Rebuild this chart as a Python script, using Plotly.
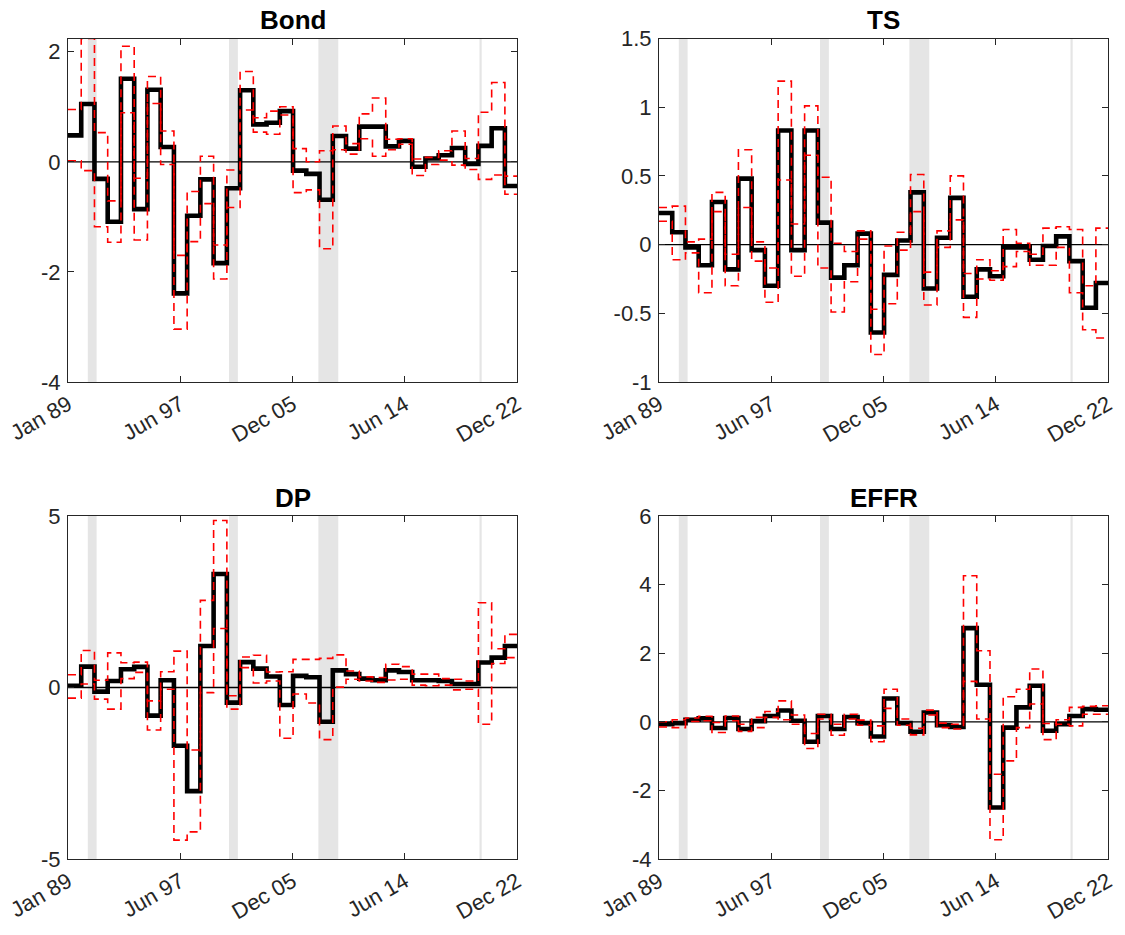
import pandas as pd
import plotly.graph_objects as go

# Annual step estimates (black) with upper/lower bands (red dashed), 1989-2022
years = list(range(1989, 2023))

bond = [0.48, 1.05, -0.31, -1.09, 1.51, -0.86, 1.31, 0.27, -2.39, -0.98, -0.32, -1.84,
        -0.48, 1.30, 0.68, 0.71, 0.92, -0.16, -0.22, -0.69, 0.47, 0.24, 0.64, 0.64,
        0.28, 0.38, -0.09, 0.06, 0.12, 0.25, -0.04, 0.29, 0.61, -0.44]
bond_hi = [0.95, 2.24, 0.53, -0.71, 2.10, -0.30, 1.55, 0.56, -1.70, -0.54, 0.10, -1.51,
           -0.15, 1.64, 0.80, 0.92, 1.00, 0.24, 0.00, 0.20, 0.65, 0.33, 0.87, 1.16,
           0.41, 0.42, 0.05, 0.08, 0.20, 0.56, 0.06, 0.90, 1.44, -0.26]
bond_lo = [0.02, -0.16, -1.18, -1.46, 0.89, -1.42, 1.06, -0.05, -3.04, -1.45, -0.76, -2.13,
           -0.83, 0.94, 0.54, 0.50, 0.85, -0.56, -0.51, -1.58, 0.22, 0.14, 0.42, 0.10,
           0.22, 0.32, -0.25, -0.05, 0.03, -0.06, -0.14, -0.32, -0.24, -0.59]

ts = [0.23, 0.09, -0.02, -0.15, 0.31, -0.18, 0.48, -0.04, -0.30, 0.83, -0.04, 0.83,
      0.16, -0.24, -0.15, 0.08, -0.64, -0.22, 0.03, 0.38, -0.32, 0.05, 0.34, -0.38,
      -0.18, -0.23, -0.02, -0.02, -0.11, -0.01, 0.06, -0.12, -0.46, -0.28]
ts_hi = [0.27, 0.28, 0.02, 0.04, 0.38, -0.07, 0.69, 0.02, -0.17, 1.19, 0.15, 1.01,
         0.49, 0.01, -0.05, 0.10, -0.47, -0.01, 0.09, 0.51, -0.20, 0.10, 0.50, -0.21,
         -0.11, -0.19, 0.11, 0.01, -0.07, 0.12, 0.13, 0.11, -0.30, 0.12]
ts_lo = [0.17, -0.11, -0.06, -0.35, 0.24, -0.30, 0.27, -0.12, -0.42, 0.47, -0.23, 0.65,
         -0.17, -0.49, -0.27, 0.04, -0.80, -0.43, -0.04, 0.24, -0.44, -0.02, 0.18, -0.53,
         -0.25, -0.26, -0.16, -0.05, -0.15, -0.15, -0.02, -0.35, -0.62, -0.68]

dp = [0.05, 0.61, -0.12, 0.19, 0.53, 0.60, -0.82, 0.21, -1.70, -3.02, 1.21, 3.31,
      -0.44, 0.74, 0.55, 0.32, -0.51, 0.34, 0.30, -1.00, 0.50, 0.39, 0.26, 0.21,
      0.50, 0.45, 0.21, 0.21, 0.19, 0.10, 0.10, 0.73, 0.87, 1.21]
dp_hi = [0.37, 1.08, 0.21, 1.01, 0.72, 0.74, -0.39, 0.46, 1.06, -1.82, 2.54, 4.87,
         -0.24, 0.89, 0.94, 0.45, 0.46, 0.82, 0.82, 0.85, 0.95, 0.48, 0.31, 0.29,
         0.68, 0.61, 0.39, 0.39, 0.26, 0.24, 0.19, 2.47, 1.13, 1.55]
dp_lo = [-0.31, 0.10, -0.34, -0.63, 0.26, 0.44, -1.24, -0.05, -4.45, -4.21, -0.15, 1.72,
         -0.63, 0.58, 0.13, 0.19, -1.48, -0.19, -0.45, -1.52, 0.01, 0.24, 0.19, 0.15,
         0.22, 0.24, 0.07, 0.05, 0.07, -0.07, -0.05, -1.07, 0.70, 0.87]

effr = [-0.07, -0.04, 0.06, 0.10, -0.18, 0.11, -0.21, 0.02, 0.17, 0.33, 0.03, -0.58,
        0.17, -0.21, 0.14, -0.04, -0.43, 0.68, -0.04, -0.29, 0.27, -0.10, -0.15, 2.73,
        1.08, -2.50, -0.17, 0.42, 1.05, -0.26, -0.07, 0.17, 0.37, 0.35]
effr_hi = [0.00, 0.06, 0.11, 0.16, -0.02, 0.17, -0.07, 0.13, 0.30, 0.61, 0.20, -0.34,
           0.22, -0.07, 0.22, 0.05, -0.12, 0.95, 0.08, -0.19, 0.34, -0.04, -0.07, 4.26,
           2.07, -1.53, 0.73, 0.95, 1.54, -0.05, 0.06, 0.42, 0.45, 0.47]
effr_lo = [-0.15, -0.17, 0.01, 0.03, -0.31, 0.03, -0.28, -0.17, 0.13, 0.06, -0.07, -0.78,
           0.08, -0.39, 0.08, -0.10, -0.58, 0.39, -0.10, -0.38, 0.20, -0.17, -0.21, 1.18,
           0.08, -3.44, -1.14, -0.17, 0.52, -0.52, -0.07, -0.12, 0.22, 0.22]

# NBER recession periods
recessions = [("1990-07-01", "1991-03-01"), ("2001-03-01", "2001-11-01"),
              ("2007-12-01", "2009-06-01"), ("2020-02-01", "2020-04-01")]

x_start = pd.Timestamp("1989-01-01")
x_end = pd.Timestamp("2022-12-01")

panels = [
    ("Bond", bond, bond_lo, bond_hi, [-4, 2.24], [-4, -2, 0, 2]),
    ("TS", ts, ts_lo, ts_hi, [-1, 1.5], [-1, -0.5, 0, 0.5, 1, 1.5]),
    ("DP", dp, dp_lo, dp_hi, [-5, 5], [-5, 0, 5]),
    ("EFFR", effr, effr_lo, effr_hi, [-4, 6], [-4, -2, 0, 2, 4, 6]),
]

W, H = 1125, 935
col_px = [(68, 517), (659, 1108)]
row_px = [(38.5, 382), (516, 859)]

# step x values: start of each year plus the end of the sample
step_x = [pd.Timestamp(f"{y}-01-01") for y in years] + [x_end]

tick_vals = list(pd.date_range(x_start, x_end, periods=5))
tick_text = [t.strftime("%b %y") for t in tick_vals]

AX = "#262626"
FONT = "Liberation Sans, Arial, sans-serif"
fig = go.Figure()
shapes = []
annotations = []

for i, (name, mid, lo, hi, yr, yt) in enumerate(panels):
    r, c = divmod(i, 2)
    sfx = "" if i == 0 else str(i + 1)
    xa, ya = "x" + sfx, "y" + sfx
    x0p, x1p = col_px[c]
    t_px, b_px = row_px[r]
    xdom = [x0p / W, x1p / W]
    ydom = [1 - b_px / H, 1 - t_px / H]

    for a, b in recessions:
        shapes.append(dict(type="rect", xref=xa, yref=ya + " domain", x0=a, x1=b, y0=0, y1=1,
                           fillcolor="#e5e5e5", line=dict(width=0), layer="below"))
    shapes.append(dict(type="line", xref=xa + " domain", yref=ya, x0=0, x1=1, y0=0, y1=0,
                       line=dict(color="black", width=1.3), layer="below"))

    fig.add_trace(go.Scatter(x=step_x, y=mid + [mid[-1]], mode="lines", line_shape="hv",
                             line=dict(color="black", width=4.6), xaxis=xa, yaxis=ya,
                             showlegend=False, hoverinfo="skip"))
    for band in (hi, lo):
        fig.add_trace(go.Scatter(x=step_x, y=band + [band[-1]], mode="lines", line_shape="hv",
                                 line=dict(color="#ff0000", width=1.6, dash="8px,5px"),
                                 xaxis=xa, yaxis=ya, showlegend=False, hoverinfo="skip"))

    common = dict(showgrid=False, zeroline=False, showline=True, linecolor=AX, linewidth=1.2,
                  mirror="ticks", ticks="inside", ticklen=6, tickwidth=1, tickcolor=AX,
                  automargin=False,
                  tickfont=dict(family=FONT, size=22, color=AX))
    fig.layout[("xaxis" + sfx)] = dict(domain=xdom, anchor=ya, type="date",
                                       range=[x_start, x_end], tickmode="array",
                                       tickvals=tick_vals, ticktext=tick_text, tickangle=-30,
                                       **common)
    fig.layout[("yaxis" + sfx)] = dict(domain=ydom, anchor=xa, range=yr, tickmode="array",
                                       tickvals=yt, ticktext=[f"{v:g}" for v in yt],
                                       ticklabelstandoff=2, **common)

    annotations.append(dict(text=f"<b>{name}</b>", xref="paper", yref="paper",
                            x=(xdom[0] + xdom[1]) / 2, y=ydom[1], xanchor="center",
                            yanchor="bottom", yshift=1, showarrow=False,
                            font=dict(family=FONT, size=26, color="black")))

fig.update_layout(template="none", width=W, height=H, margin=dict(l=0, r=0, t=0, b=0),
                  paper_bgcolor="white", plot_bgcolor="white",
                  shapes=shapes, annotations=annotations)

fig.write_html("out.html")
